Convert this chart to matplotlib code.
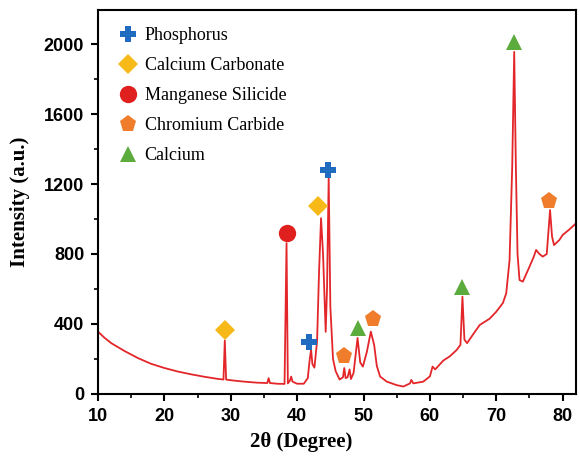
import matplotlib
matplotlib.use('Agg')
import matplotlib.pyplot as plt
from matplotlib.ticker import MultipleLocator

# XRD pattern (2theta in degrees, intensity in a.u.)
two_theta = [10, 11, 12, 14, 16, 18, 20, 22, 24, 26, 28, 28.9, 29.1, 29.3, 30, 32, 34,
             35.5, 35.7, 35.9, 37, 38.1, 38.4, 38.6, 38.9, 39.1, 39.3, 40, 41, 41.6, 41.9,
             42.1, 42.3, 42.6, 43.0, 43.3, 43.6, 43.9, 44.3, 44.5, 44.75, 45.0, 45.4, 45.8,
             46.4, 46.9, 47.1, 47.3, 47.6, 47.9, 48.1, 48.5, 49.1, 49.5, 49.9, 50.5, 51.1,
             51.6, 52.0, 52.5, 53.5, 55, 56, 57, 57.2, 57.5, 59, 60, 60.4, 60.8, 62, 63, 64,
             64.6, 64.9, 65.2, 65.6, 66.5, 67.5, 69, 70, 71, 71.5, 72, 72.4, 72.7, 72.95,
             73.2, 73.5, 74, 75, 75.6, 76, 76.5, 77, 77.6, 77.9, 78.1, 78.4, 78.7, 79.5, 80,
             81, 82]
intensity = [356, 320, 290, 245, 205, 172, 148, 128, 112, 98, 86, 82, 305, 82, 78, 70, 64,
             62, 90, 62, 58, 57, 862, 60, 75, 99, 70, 58, 58, 90, 200,
             251, 170, 150, 300, 700, 1005, 800, 355, 600, 1240, 500, 200, 130,
             82, 95, 148, 90, 95, 140, 85, 120, 320, 180, 156, 240, 356,
             280, 160, 99, 70, 50, 42, 60, 80, 60, 70, 100, 156, 140, 190, 215, 250,
             280, 556, 310, 290, 340, 394, 430, 470, 520, 576, 766, 1300, 1956, 1300,
             800, 651, 642, 727, 780, 823, 800, 785, 800, 950, 1051, 900, 851, 880, 909,
             940, 975]

# phase markers
phases = ['Phosphorus', 'Calcium Carbonate', 'Manganese Silicide', 'Chromium Carbide', 'Calcium']
phase_x = [[41.8, 44.6], [29.1, 43.2], [38.5], [47.0, 51.5, 77.9], [49.1, 64.9, 72.7]]
phase_y = [[295, 1282], [365, 1076], [918], [215, 427, 1103], [378, 613, 2010]]
markers = ['P', 'D', 'o', 'p', '^']
colors = ['#1f6cc0', '#f7b918', '#e0201f', '#ef7d2b', '#5cab3d']
sizes = [12, 10, 12.5, 12.5, 12]

fig = plt.figure(figsize=(5.8, 4.58), dpi=100)
ax = fig.add_axes([0.169, 0.14, 0.824, 0.838])

ax.plot(two_theta, intensity, color='#e3262a', lw=1.3, zorder=2)
for name, xs, ys, m, c, s in zip(phases, phase_x, phase_y, markers, colors, sizes):
    ax.plot(xs, ys, linestyle='none', marker=m, color=c, markersize=s,
            markeredgewidth=0, label=name, zorder=3)

ax.set_xlim(10, 82)
ax.set_ylim(0, 2195)
ax.xaxis.set_major_locator(MultipleLocator(10))
ax.xaxis.set_minor_locator(MultipleLocator(5))
ax.yaxis.set_major_locator(MultipleLocator(400))
ax.yaxis.set_minor_locator(MultipleLocator(200))
ax.tick_params(which='major', direction='out', length=5, width=1.5, pad=5)
ax.tick_params(which='minor', direction='out', length=3, width=1.2)
for sp in ax.spines.values():
    sp.set_linewidth(1.5)
for lab in ax.get_xticklabels() + ax.get_yticklabels():
    lab.set_fontfamily('Liberation Sans')
    lab.set_fontweight('bold')
    lab.set_fontsize(13)

ax.set_xlabel('2θ (Degree)', family='Liberation Serif', weight='bold', fontsize=15)
ax.xaxis.set_label_coords(0.425, -0.10)
ax.set_ylabel('Intensity (a.u.)', family='Liberation Serif', weight='bold', fontsize=15)
ax.yaxis.set_label_coords(-0.142, 0.5)

ax.legend(loc='upper left', bbox_to_anchor=(0.02, 0.975), frameon=False,
          prop={'family': 'Liberation Serif', 'size': 13}, labelspacing=0.72,
          handletextpad=0.15, handlelength=1.5, borderaxespad=0, numpoints=1)

fig.savefig('out.png', dpi=100)
